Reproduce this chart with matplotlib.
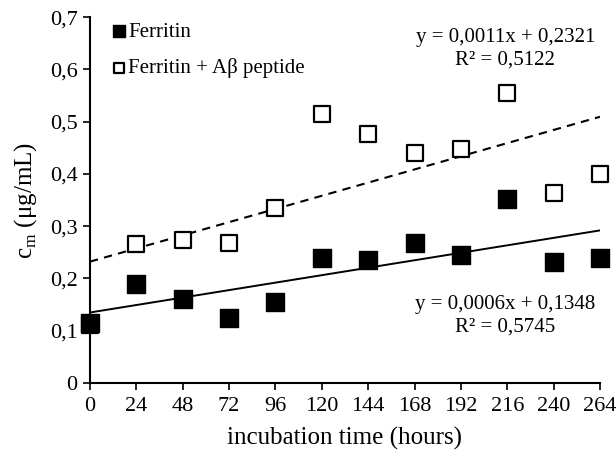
import numpy as np
import matplotlib
matplotlib.use("Agg")
import matplotlib.pyplot as plt

matplotlib.rcParams['font.family'] = ["Liberation Serif", "DejaVu Serif"]

# %% data
hours = [0, 24, 48, 72, 96, 120, 144, 168, 192, 216, 240, 264]
ferritin = [0.115, 0.19, 0.16, 0.125, 0.155, 0.24, 0.235, 0.268, 0.245, 0.352, 0.232, 0.24]
ferritinAb = [0.11, 0.265, 0.273, 0.267, 0.335, 0.515, 0.477, 0.44, 0.447, 0.555, 0.363, 0.40]
fitFerritin = (0.000595, 0.1348)
fitFerritinAb = (0.00105, 0.2321)
yTicks = [0, 0.1, 0.2, 0.3, 0.4, 0.5, 0.6, 0.7]

# %%
fig = plt.figure(figsize=(6.16, 4.5), dpi=100)
ax = fig.add_axes([0.146, 0.149, 0.828, 0.813])

xs = np.array([0, 264])
ax.plot(xs, fitFerritinAb[0] * xs + fitFerritinAb[1], color="black", lw=1.5, ls=(0, (4, 3)), zorder=1)
ax.plot(xs, fitFerritin[0] * xs + fitFerritin[1], color="black", lw=1.4, zorder=1)

ax.scatter(hours, ferritin, marker="s", s=150, color="black", label="Ferritin", zorder=3, clip_on=False)
ax.scatter(hours, ferritinAb, marker="s", s=120, facecolor="white", edgecolor="black",
           lw=1.6, label="Ferritin + A\u03b2 peptide", zorder=2, clip_on=False)

ax.set_xlim(0, 264)
ax.set_ylim(0, 0.7)
ax.set_xticks(hours)
ax.set_yticks(yTicks)
ax.set_yticklabels([f"{t:g}".replace(".", ",") for t in yTicks])
ax.tick_params(labelsize=16, length=5, width=1.2, direction="out")
ax.tick_params(axis="x", pad=5)
ax.tick_params(axis="y", pad=4)

for side in ["top", "right"]:
    ax.spines[side].set_visible(False)
for side in ["left", "bottom"]:
    ax.spines[side].set_linewidth(1.5)

ax.set_xlabel("incubation time (hours)", fontsize=18, labelpad=8)
ax.set_ylabel("c$_\\mathregular{m}$ (\u03bcg/mL)", fontsize=18, labelpad=8)

ax.legend(loc="upper left", frameon=False, fontsize=15, handletextpad=-0.55,
          borderaxespad=0.1, labelspacing=0.8, markerscale=0.7,
          bbox_to_anchor=(-0.005, 1.015))

ax.text(215, 0.639, "y = 0,0011x + 0,2321\nR\u00b2 = 0,5122", ha="center", va="center",
        fontsize=15, linespacing=1.25)
ax.text(215, 0.128, "y = 0,0006x + 0,1348\nR\u00b2 = 0,5745", ha="center", va="center",
        fontsize=15, linespacing=1.25)

plt.savefig("out.png", dpi=100)
